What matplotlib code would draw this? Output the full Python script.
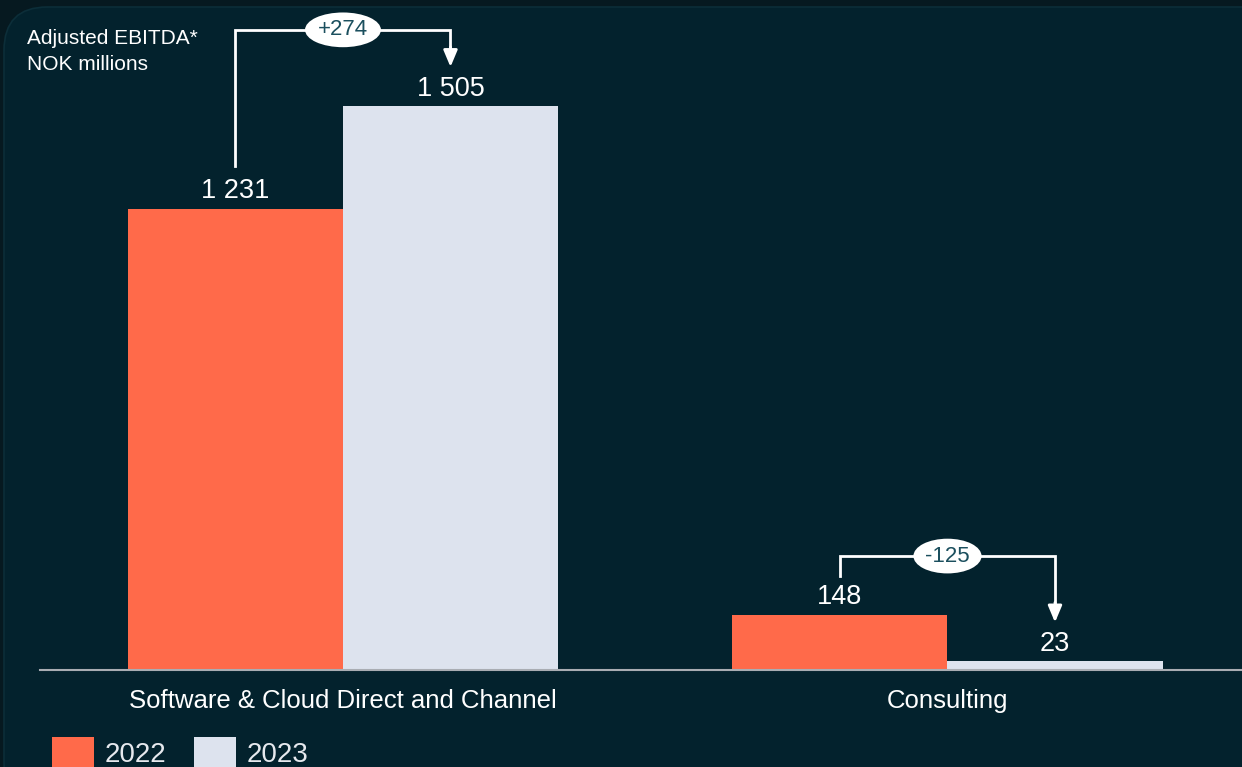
import matplotlib
matplotlib.use("Agg")
import matplotlib.pyplot as plt
from matplotlib.patches import FancyBboxPatch

# ---- data ----
categories = ["Software & Cloud Direct and Channel", "Consulting"]
years = ["2022", "2023"]
values_2022 = [1231, 148]
values_2023 = [1505, 23]
title_lines = ["Adjusted EBITDA*", "NOK millions"]

# ---- style ----
BG = "#03222d"
ORANGE = "#ff6a4a"
LIGHT = "#dde3ee"
TEAL = "#1b4f5e"
plt.rcParams['font.family'] = ['Liberation Sans', 'DejaVu Sans']

W, H = 1242, 767
fig = plt.figure(figsize=(W / 100, H / 100), dpi=100)
fig.patch.set_facecolor("#061920")

# rounded panel
panel = FancyBboxPatch((4 / W, -0.05), 1.2, 1.05 - 7 / H,
                       boxstyle="round,pad=0,rounding_size=0.035",
                       transform=fig.transFigure, fc=BG, ec="#0c2e39", lw=1.2,
                       mutation_aspect=W / H, zorder=-5)
fig.patches.append(panel)

px_per_unit = 0.3748  # vertical scale (pixels per NOK million)
base_px = 670
ax = fig.add_axes([40 / W, (H - base_px) / H, (W - 40) / W, base_px / H])
ax.set_zorder(2)
ax.set_facecolor("none")
ax.set_xlim(-0.5012, 1.4872)
ax.set_ylim(0, base_px / px_per_unit)
for s in ["top", "right", "left"]:
    ax.spines[s].set_visible(False)
ax.spines["bottom"].set_color("#a9adb3")
ax.spines["bottom"].set_linewidth(1.5)
ax.tick_params(left=False, labelleft=False, bottom=False)

x = [0, 1]
bw = 0.3557
b1 = ax.bar([i - bw / 2 for i in x], values_2022, width=bw, color=ORANGE, label=years[0], zorder=2)
b2 = ax.bar([i + bw / 2 for i in x], values_2023, width=bw, color=LIGHT, label=years[1], zorder=2)

ax.set_xticks(x)
ax.set_xticklabels(categories, color="white", fontsize=18.5)
ax.tick_params(axis="x", pad=10)

def fmt(v):
    return f"{v:,}".replace(",", " ")

for bars in (b1, b2):
    for r in bars:
        v = r.get_height()
        ax.annotate(fmt(int(v)), (r.get_x() + r.get_width() / 2, v),
                    xytext=(0, 3), textcoords="offset points",
                    ha="center", va="bottom", color="white", fontsize=19.5)

# change brackets
bracket_top = [1708, 304]   # layout heights of the connector lines
gap = 43 / px_per_unit     # gap between label and connector ends
for i in range(len(categories)):
    v0, v1 = values_2022[i], values_2023[i]
    x0 = i - bw / 2
    x1 = i + bw / 2
    yt = bracket_top[i]
    ax.plot([x0, x0, x1, x1], [v0 + gap * (1.0 if i == 0 else 0.9), yt, yt, v1 + gap + 14 / px_per_unit],
            color="white", lw=2, solid_joinstyle="miter", zorder=3)
    ax.annotate("", xy=(x1, v1 + gap - 4 / px_per_unit), xytext=(x1, v1 + gap + 16 / px_per_unit),
                arrowprops=dict(arrowstyle="-|>,head_length=1.0,head_width=0.42",
                                color="white", lw=2, shrinkA=0, shrinkB=0), zorder=3)
    d = v1 - v0
    ax.text(i, yt, f"{d:+d}", ha="center", va="center", color=TEAL, fontsize=16,
            bbox=dict(boxstyle="ellipse,pad=0.08", fc="white", ec="none"), zorder=4)

# title
fig.text(27 / W, 1 - 38 / H, title_lines[0], color="white", fontsize=15, va="center", ha="left")
fig.text(27 / W, 1 - 65 / H, title_lines[1], color="white", fontsize=15, va="center", ha="left")

# legend
leg = fig.legend(handles=[b1, b2], labels=years, loc="lower left",
                 bbox_to_anchor=(41 / W, -12 / H), ncol=2, frameon=False,
                 fontsize=20, labelcolor="#e6e9ee", handlelength=1.5, handleheight=1.35,
                 handletextpad=0.4, columnspacing=1.0, borderaxespad=0)

fig.savefig("out.png", dpi=100, facecolor=fig.get_facecolor())
